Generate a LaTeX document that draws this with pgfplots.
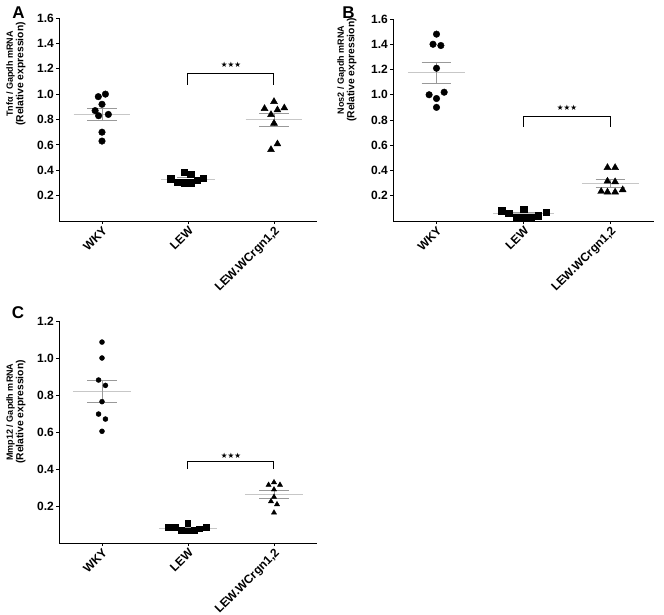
\documentclass[border=0pt]{standalone}
\usepackage{fontspec}
\setmainfont{Liberation Sans}
\newfontfamily\symfont{DejaVu Sans}
\usepackage{pgfplots}
\pgfplotsset{compat=1.18}

\pgfplotsset{
  dotplot/.style={
    scale only axis,
    anchor=south west,
    xmin=-0.5, xmax=2.5,
    ymin=0,
    axis x line*=bottom,
    axis y line*=left,
    axis line style={black, line width=1pt},
    tick align=outside,
    major tick length=3pt,
    tick style={black, line width=0.9pt},
    xtick={0,1,2},
    xticklabels={WKY,LEW,{LEW.WCrgn1,2}},
    x tick label style={rotate=45, anchor=north east, inner sep=1pt,
      font=\fontsize{12}{14}\selectfont\bfseries},
    y tick label style={font=\fontsize{12}{14}\selectfont\bfseries, inner sep=2pt},
    yticklabel style={/pgf/number format/fixed, /pgf/number format/fixed zerofill,
      /pgf/number format/precision=1},
    /pgf/number format/assume math mode=true,
    clip=false,
  },
  meanline/.style={draw=black!22, line width=0.9pt, mark=none},
  semline/.style={draw=black!40, line width=0.9pt, mark=none},
  bracket/.style={draw=black, line width=1pt, mark=none},
  circ/.style={only marks, mark=*, mark options={fill=black, draw=black}, mark size=#1},
  sq/.style={only marks, mark=square*, mark options={fill=black, draw=black}, mark size=#1},
  tri/.style={only marks, mark=triangle*, mark options={fill=black, draw=black}, mark size=#1},
}

\newcommand{\stars}{\symfont\fontsize{7.5}{8}\selectfont ★★★}
\newcommand{\ylab}[1]{{\fontsize{9}{11}\selectfont\bfseries #1}\\[-1.5pt]{\fontsize{10.3}{11}\selectfont\bfseries (Relative expression)}}

\begin{document}
\begin{tikzpicture}
\useasboundingbox (0,0) rectangle (664pt,-615pt);
\fill[white] (0,0) rectangle (664pt,-615pt);

% ---------------- Panel A ----------------
\begin{axis}[dotplot, at={(59pt,-221pt)}, width=258pt, height=203pt,
  ymax=1.6, ytick={0.2,0.4,0.6,0.8,1.0,1.2,1.4,1.6}]
  \addplot[meanline] coordinates {(-0.33,0.84) (0.33,0.84)};
  \addplot[semline] coordinates {(-0.17,0.886) (0.17,0.886)};
  \addplot[semline] coordinates {(-0.17,0.796) (0.17,0.796)};
  \addplot[semline] coordinates {(0,0.796) (0,0.886)};
  \addplot[meanline] coordinates {(0.69,0.33) (1.31,0.33)};
  \addplot[semline] coordinates {(0.87,0.341) (1.13,0.341)};
  \addplot[semline] coordinates {(0.87,0.319) (1.13,0.319)};
  \addplot[meanline] coordinates {(1.67,0.797) (2.33,0.797)};
  \addplot[semline] coordinates {(1.83,0.846) (2.17,0.846)};
  \addplot[semline] coordinates {(1.83,0.749) (2.17,0.749)};
  \addplot[semline] coordinates {(2,0.749) (2,0.846)};
  \addplot[circ=3.3pt] table {
    x y
    0.04 1.00
    -0.043 0.98
    0.0 0.92
    -0.08 0.87
    0.074 0.84
    -0.04 0.83
    0.0 0.70
    0.0 0.63
  };
  \addplot[sq=3.2pt] table {
    x y
    0.80 0.334
    0.88 0.308
    0.957 0.384
    0.957 0.302
    1.03 0.371
    1.03 0.302
    1.105 0.321
    1.18 0.337
  };
  \addplot[tri=4pt] table {
    x y
    1.89 0.886
    2.0 0.941
    2.04 0.875
    2.12 0.891
    1.965 0.838
    2.0 0.77
    2.04 0.607
    1.965 0.562
  };
  \addplot[bracket] coordinates {(1,1.075) (1,1.159) (2,1.159) (2,1.075)};
  \node at (axis cs:1.5,1.23) {\stars};
\end{axis}

% ---------------- Panel B ----------------
\begin{axis}[dotplot, at={(393pt,-221pt)}, width=261pt, height=202pt,
  ymax=1.6, ytick={0.2,0.4,0.6,0.8,1.0,1.2,1.4,1.6}]
  \addplot[meanline] coordinates {(-0.33,1.174) (0.33,1.174)};
  \addplot[semline] coordinates {(-0.17,1.255) (0.17,1.255)};
  \addplot[semline] coordinates {(-0.17,1.093) (0.17,1.093)};
  \addplot[semline] coordinates {(0,1.093) (0,1.255)};
  \addplot[meanline] coordinates {(0.65,0.056) (1.35,0.056)};
  \addplot[semline] coordinates {(0.83,0.065) (1.17,0.065)};
  \addplot[semline] coordinates {(0.83,0.047) (1.17,0.047)};
  \addplot[meanline] coordinates {(1.67,0.30) (2.33,0.30)};
  \addplot[semline] coordinates {(1.83,0.331) (2.17,0.331)};
  \addplot[semline] coordinates {(1.83,0.268) (2.17,0.268)};
  \addplot[semline] coordinates {(2,0.268) (2,0.331)};
  \addplot[circ=3.3pt] table {
    x y
    0.0 1.48
    -0.04 1.40
    0.05 1.39
    0.0 1.21
    -0.085 1.00
    0.088 1.02
    0.0 0.97
    0.0 0.90
  };
  \addplot[sq=3.2pt] table {
    x y
    0.75 0.082
    0.83 0.064
    0.92 0.032
    1.0 0.095
    1.0 0.027
    1.09 0.032
    1.17 0.043
    1.26 0.071
  };
  \addplot[tri=4pt] table {
    x y
    1.965 0.423
    2.053 0.423
    1.965 0.315
    2.053 0.310
    1.893 0.234
    1.965 0.229
    2.053 0.229
    2.14 0.247
  };
  \addplot[bracket] coordinates {(1,0.746) (1,0.83) (2,0.83) (2,0.746)};
  \node at (axis cs:1.5,0.896) {\stars};
\end{axis}

% ---------------- Panel C ----------------
\begin{axis}[dotplot, at={(59pt,-543pt)}, width=258pt, height=222pt,
  ymax=1.2, ytick={0.2,0.4,0.6,0.8,1.0,1.2}]
  \addplot[meanline] coordinates {(-0.34,0.818) (0.34,0.818)};
  \addplot[semline] coordinates {(-0.17,0.878) (0.17,0.878)};
  \addplot[semline] coordinates {(-0.17,0.76) (0.17,0.76)};
  \addplot[semline] coordinates {(0,0.76) (0,0.878)};
  \addplot[meanline] coordinates {(0.66,0.079) (1.34,0.079)};
  \addplot[semline] coordinates {(0.83,0.084) (1.17,0.084)};
  \addplot[semline] coordinates {(0.83,0.074) (1.17,0.074)};
  \addplot[meanline] coordinates {(1.66,0.262) (2.34,0.262)};
  \addplot[semline] coordinates {(1.83,0.286) (2.17,0.286)};
  \addplot[semline] coordinates {(1.83,0.243) (2.17,0.243)};
  \addplot[semline] coordinates {(2,0.243) (2,0.286)};
  \addplot[circ=2.5pt] table {
    x y
    0.0 1.086
    0.0 1.00
    -0.04 0.881
    0.04 0.852
    0.0 0.764
    -0.04 0.697
    0.04 0.670
    0.0 0.604
  };
  \addplot[sq=2.7pt] table {
    x y
    0.77 0.085
    0.85 0.085
    0.92 0.070
    1.0 0.108
    1.0 0.067
    1.07 0.070
    1.13 0.077
    1.21 0.085
  };
  \addplot[tri=3pt] table {
    x y
    1.937 0.314
    2.0 0.328
    2.07 0.314
    2.0 0.289
    2.0 0.249
    1.965 0.225
    2.035 0.209
    2.0 0.164
  };
  \addplot[bracket] coordinates {(1,0.40) (1,0.443) (2,0.443) (2,0.40)};
  \node at (axis cs:1.5,0.474) {\stars};
\end{axis}

% panel letters
\node[font=\fontsize{17}{19}\selectfont\bfseries] at (18.5pt,-13pt) {A};
\node[font=\fontsize{17}{19}\selectfont\bfseries] at (348.5pt,-13pt) {B};
\node[font=\fontsize{17}{19}\selectfont\bfseries] at (18pt,-313pt) {C};

% y labels
\node[rotate=90, align=center, inner sep=0pt] at (16pt,-74pt) {\ylab{Tnfα / Gapdh mRNA}};
\node[rotate=90, align=center, inner sep=0pt] at (347pt,-70pt) {\ylab{Nos2 / Gapdh mRNA}};
\node[rotate=90, align=center, inner sep=0pt] at (16pt,-412pt) {\ylab{Mmp12 / Gapdh mRNA}};
\end{tikzpicture}
\end{document}
